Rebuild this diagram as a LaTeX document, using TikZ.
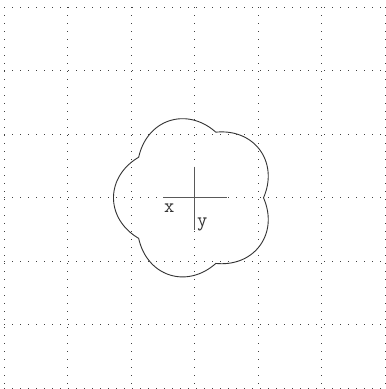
\documentclass[tikz,border=0pt]{standalone}
\begin{document}
\begin{tikzpicture}[x=1pt,y=-1pt,
  gridline/.style={draw=black!75,line width=0.9pt,dash pattern=on 0.9pt off 7.1pt},
  axisline/.style={draw=black!65,line width=1.3pt},
  blobline/.style={draw=black!80,line width=0.9pt},
  axlabel/.style={font=\ttfamily\fontsize{20}{20}\selectfont,text=black!80,inner sep=0pt}]
\useasboundingbox[fill=white] (0,0) rectangle (386,389);
% grid
\foreach \k in {0,...,6}{
  \draw[gridline] ({4+63.5*\k},7.3) -- ({4+63.5*\k},392);
  \draw[gridline] (4,{7.3+63.5*\k}) -- (392,{7.3+63.5*\k});
}
% blob
\draw[blobline] plot[domain=0:360,samples=721,smooth]
  ({194.5+(69+12*abs(sin(2.5*\x)))*cos(\x)},{197.8-(69+12*abs(sin(2.5*\x)))*sin(\x)}) -- cycle;
% cross
\coordinate (c) at (194.5,197.8);
\coordinate (l) at (163,197.8);
\coordinate (r) at (227,197.8);
\coordinate (t) at (194.5,166.5);
\coordinate (b) at (194.5,230);
\draw[axisline] (l) -- (r);
\draw[axisline] (t) -- (b);
\node[axlabel,anchor=base west] (xl) at (164,212) {x};
\node[axlabel,anchor=base west] (yl) at (197,226.5) {y};
\end{tikzpicture}
\end{document}
